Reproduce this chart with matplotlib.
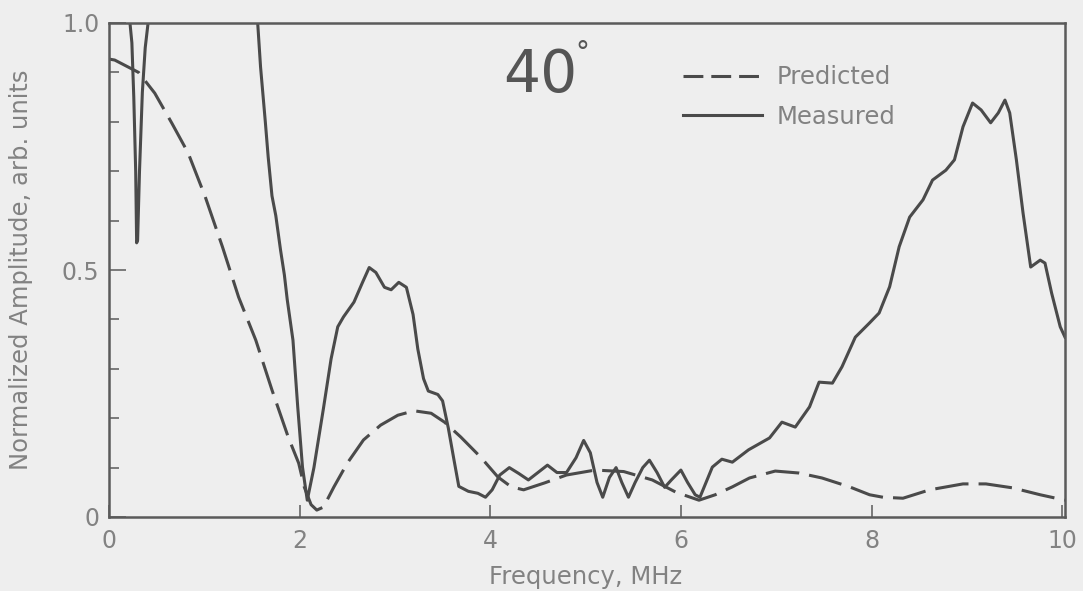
import matplotlib
matplotlib.use("Agg")
import matplotlib.pyplot as plt
from matplotlib.lines import Line2D
from matplotlib.ticker import MultipleLocator, FixedLocator

# ---------------- data ----------------
pred_freq = [0.0, 0.06, 0.31, 0.48, 0.66, 0.83, 1.01, 1.19, 1.36, 1.54, 1.71, 1.88,
             1.99, 2.05, 2.12, 2.18, 2.25, 2.36, 2.50, 2.67, 2.85, 3.03, 3.20, 3.38,
             3.52, 3.69, 3.90, 4.08, 4.22, 4.35, 4.57, 4.80, 5.10, 5.40, 5.70, 5.95,
             6.19, 6.36, 6.54, 6.72, 6.99, 7.24, 7.48, 7.77, 7.98, 8.12, 8.33, 8.61,
             8.96, 9.20, 9.48, 9.77, 10.03]
pred_amp = [0.927, 0.925, 0.900, 0.858, 0.797, 0.737, 0.648, 0.547, 0.445, 0.358, 0.257, 0.162,
            0.109, 0.060, 0.025, 0.014, 0.020, 0.061, 0.109, 0.156, 0.186, 0.206, 0.215, 0.210,
            0.192, 0.162, 0.121, 0.081, 0.061, 0.055, 0.069, 0.085, 0.095, 0.092, 0.075, 0.050,
            0.034, 0.045, 0.061, 0.079, 0.093, 0.089, 0.079, 0.061, 0.045, 0.040, 0.038, 0.055,
            0.067, 0.067, 0.059, 0.045, 0.034]

meas_freq = [0.19, 0.22, 0.24, 0.26, 0.28, 0.29, 0.30, 0.32, 0.35, 0.38, 0.41, 0.44,
             1.53, 1.56, 1.59, 1.64, 1.67, 1.71, 1.75, 1.80, 1.84, 1.87, 1.93, 1.98,
             2.03, 2.08, 2.15, 2.25, 2.33, 2.40, 2.46, 2.57, 2.66, 2.73, 2.80, 2.89,
             2.96, 3.04, 3.12, 3.19, 3.24, 3.30, 3.35, 3.45, 3.50, 3.56, 3.62, 3.67,
             3.77, 3.87, 3.95, 4.02, 4.10, 4.20, 4.30, 4.40, 4.50, 4.60, 4.70, 4.80,
             4.90, 4.98, 5.05, 5.12, 5.18, 5.25, 5.32, 5.38, 5.45, 5.52, 5.60, 5.67,
             5.75, 5.83, 5.90, 6.00, 6.07, 6.15, 6.20, 6.33, 6.43, 6.54, 6.71, 6.93,
             7.06, 7.20, 7.35, 7.45, 7.59, 7.69, 7.83, 7.98, 8.08, 8.19, 8.29, 8.40,
             8.54, 8.64, 8.78, 8.87, 8.96, 9.06, 9.15, 9.25, 9.33, 9.40, 9.45, 9.52,
             9.59, 9.67, 9.77, 9.82, 9.89, 9.98, 10.03]
meas_amp = [1.15, 1.00, 0.96, 0.85, 0.70, 0.555, 0.56, 0.70, 0.86, 0.95, 1.00, 1.15,
            1.15, 1.00, 0.911, 0.800, 0.729, 0.650, 0.610, 0.540, 0.490, 0.440, 0.358, 0.223,
            0.101, 0.034, 0.100, 0.220, 0.320, 0.385, 0.405, 0.435, 0.475, 0.505, 0.495, 0.465,
            0.460, 0.475, 0.465, 0.410, 0.340, 0.280, 0.255, 0.248, 0.235, 0.180, 0.115, 0.062,
            0.052, 0.048, 0.040, 0.055, 0.085, 0.100, 0.088, 0.075, 0.090, 0.105, 0.090, 0.090,
            0.120, 0.155, 0.130, 0.070, 0.040, 0.080, 0.100, 0.070, 0.040, 0.070, 0.100, 0.115,
            0.090, 0.060, 0.075, 0.095, 0.070, 0.045, 0.040, 0.101, 0.117, 0.111, 0.136, 0.160,
            0.192, 0.182, 0.223, 0.273, 0.271, 0.304, 0.364, 0.393, 0.413, 0.466, 0.547, 0.607,
            0.642, 0.682, 0.702, 0.723, 0.790, 0.838, 0.824, 0.798, 0.818, 0.844, 0.818, 0.723,
            0.615, 0.506, 0.520, 0.514, 0.453, 0.385, 0.364]

x_ticks = [0, 2, 4, 6, 8, 10]
x_tick_labels = ["0", "2", "4", "6", "8", "10"]
y_ticks = [0, 0.5, 1.0]
y_tick_labels = ["0", "0.5", "1.0"]
angle_label = "40"
series_labels = ["Predicted", "Measured"]

# ---------------- style ----------------
BG = "#eeeeee"
LINE = "#4a4a4a"
TEXT = "#828282"
plt.rcParams["font.family"] = ["DejaVu Sans"]

fig = plt.figure(figsize=(10.83, 5.91), dpi=100, facecolor=BG)
ax = fig.add_axes([109 / 1083, 1 - 517 / 591, (1065 - 109) / 1083, (517 - 23) / 591])
ax.set_facecolor(BG)

dash = (0, (11, 3.3))
ax.plot(pred_freq, pred_amp, color=LINE, lw=2.2, linestyle=dash)
ax.plot(meas_freq, meas_amp, color=LINE, lw=2.2, solid_joinstyle="round")

ax.set_xlim(0, 10.03)
ax.set_ylim(0, 1.0)

for s in ax.spines.values():
    s.set_color("#5a5a5a")
    s.set_linewidth(1.8)

ax.xaxis.set_major_locator(FixedLocator(x_ticks))
ax.set_xticklabels(x_tick_labels)
ax.yaxis.set_major_locator(FixedLocator(y_ticks))
ax.set_yticklabels(y_tick_labels)
ax.yaxis.set_minor_locator(MultipleLocator(0.1))

ax.tick_params(axis="x", which="major", direction="in", length=9, width=1.1,
               color="#5a5a5a", labelsize=17, labelcolor=TEXT, pad=9)
ax.tick_params(axis="y", which="major", direction="in", length=12, width=1.1,
               color="#5a5a5a", labelsize=17, labelcolor=TEXT, pad=7)
ax.tick_params(axis="y", which="minor", direction="in", length=7, width=1.1,
               color="#5a5a5a")

ax.set_xlabel("Frequency, MHz", fontsize=17.5, color=TEXT)
ax.xaxis.set_label_coords(0.498, -0.097)
ax.set_ylabel("Normalized Amplitude, arb. units", fontsize=17.5, color=TEXT)
ax.yaxis.set_label_coords(-0.080, 0.5)

# angle annotation
ax.text(0.412, 0.893, angle_label, transform=ax.transAxes, fontsize=42,
        color="#555555", ha="left", va="center")
ax.text(0.488, 0.94, "°", transform=ax.transAxes, fontsize=20,
        color="#555555", ha="left", va="center")

handles = [Line2D([], [], color=LINE, lw=2.2, linestyle=(0, (6.5, 2.6))),
           Line2D([], [], color=LINE, lw=2.2)]
leg = ax.legend(handles, series_labels, loc="upper left",
                bbox_to_anchor=(0.6004, 0.914), frameon=False,
                fontsize=17.5, handlelength=3.25, handletextpad=0.6,
                labelspacing=0.62, borderpad=0, borderaxespad=0)
for t in leg.get_texts():
    t.set_color(TEXT)

fig.savefig("out.png", dpi=100, facecolor=BG)
